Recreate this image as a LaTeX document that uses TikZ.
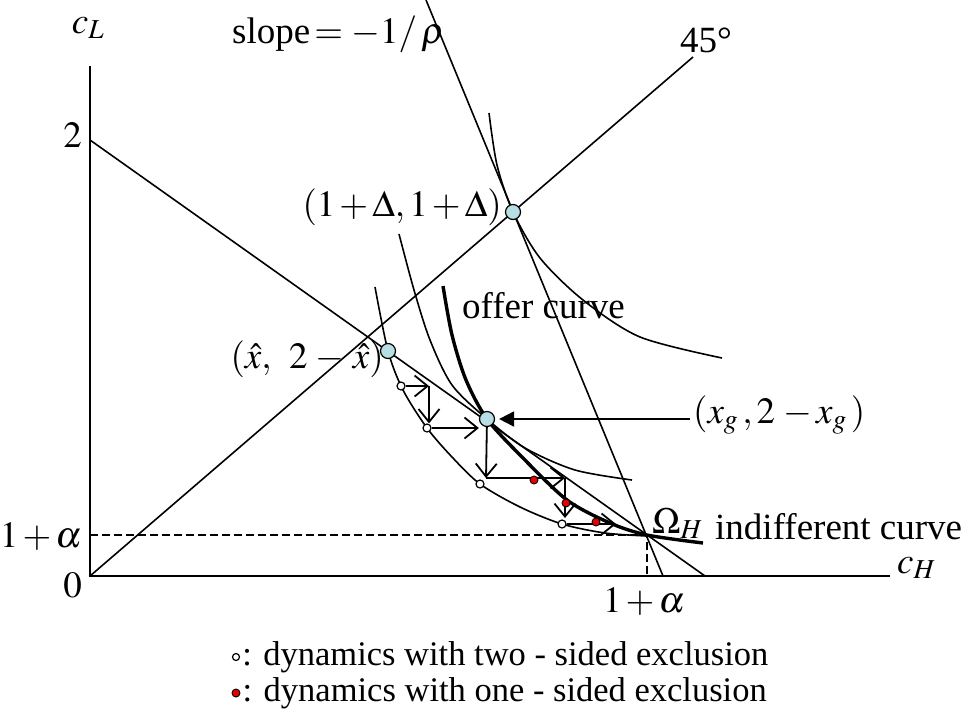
\documentclass[tikz,border=0pt]{standalone}
\usepackage{mathptmx}
\usepackage{fontspec}
\setmainfont{Liberation Serif}
\usetikzlibrary{arrows.meta,positioning}
\definecolor{ptfill}{RGB}{183,222,228}
\definecolor{dynred}{RGB}{232,0,0}
\medmuskip=2mu

\begin{document}
\begin{tikzpicture}[
  x=1pt,y=-1pt,
  every node/.style={font=\fontsize{37}{44}\selectfont,inner sep=0pt},
  thin line/.style={line width=1.6pt},
  offer/.style={line width=3.4pt},
  guide/.style={line width=1.2pt,dash pattern=on 8pt off 4pt},
  pt/.style={circle,draw,fill=ptfill,minimum size=15pt,line width=1.2pt},
  twodot/.style={circle,draw,fill=white,minimum size=8pt,line width=1.2pt},
  onedot/.style={circle,draw,fill=dynred,minimum size=8pt,line width=0.9pt},
  dynarr/.style={-{Straight Barb[length=13pt,width=21pt,line width=1.8pt]},line width=1.8pt},
  bigarr/.style={-{Triangle[length=15pt,width=15pt]},line width=1.9pt},
  legtxt/.style={font=\fontsize{34.5}{40}\selectfont}
]
\useasboundingbox (0,0) rectangle (968,713);

% axes and guides
\coordinate (o) at (90,576);
\coordinate (omega) at (647,535);
\coordinate (yal) at (90,535);
\coordinate (xal) at (647,576);
\draw[thin line] (90,66) -- (o) -- (890,576);
\draw[guide] (yal) -- (omega) -- (xal);
\draw[thin line] (90,140) -- (705,576);
\draw[thin line] (o) -- (693,57);
\draw[thin line] (426,0) -- (663,576);

% curves
\draw[thin line] plot[smooth] coordinates {(489,113) (497,165) (513,212) (540,258) (583,300) (640,337) (722,358)};
\draw[thin line] plot[smooth] coordinates {(399,234) (414,290) (430,340) (452,385) (487,419) (525,448) (575,470) (632,480)};
\draw[thin line] plot[smooth] coordinates {(375,287) (388,351) (403,390) (427,428) (452,457) (480,484) (520,507) (562,524) (605,533) (647,536)};
\draw[offer] plot[smooth] coordinates {(443,286) (452,335) (466,380) (487,419) (522,457) (567,500) (610,523) (647,535) (703,543)};

% points
\node[pt] (pD) at (513,212) {};
\node[pt] (pxhat) at (388,351) {};
\node[pt] (pxg) at (487,419) {};

% dynamics
\node[twodot] (a1) at (401,386) {};
\node[twodot] (a2) at (427,428) {};
\node[twodot] (a3) at (480,484) {};
\node[twodot] (a4) at (562,524) {};
\coordinate (k1) at (429,386);
\coordinate (k2) at (486,478);
\coordinate (k3) at (565,478);
\coordinate (k4) at (565,518);
\coordinate (k5) at (616,524);
\draw[dynarr] (a1) -- (k1);
\draw[dynarr] (k1) -- (k1 |- a2.north);
\draw[dynarr] (a2) -- (a2 -| pxg.west);
\draw[dynarr] (pxg) -- (k2);
\draw[dynarr] (k2) -- (k3);
\draw[dynarr] (k3) -- (k4);
\draw[dynarr] (a4) -- (k5);
\node[onedot] (b1) at (534,480) {};
\node[onedot] (b2) at (566,503) {};
\node[onedot] (b3) at (596,522) {};

% labels
\node[anchor=base] (cl) at (88,33) {$c_L$};
\node[anchor=base west] (cH) at (897,573) {$c_H$};
\node[anchor=base east] (two) at (82,147) {$2$};
\node[anchor=base east] (ya) at (82,547) {$1+\alpha$};
\node[anchor=base east] (zero) at (82,597) {$0$};
\node[anchor=base] (xa) at (644,612) {$1+\alpha$};
\node[anchor=base west] (slope) at (232,43) {slope$\,=-1/\,\rho$};
\node[anchor=base] (deg) at (706,52) {45°};
\node[anchor=base east] (lD) at (502,216) {$(1+\Delta,1+\Delta)$};
\node[anchor=base west] (loffer) at (462,318) {offer curve};
\node[anchor=base east] (lxhat) at (384,368) {$(\hat{x},\ \,2\,-\,\hat{x})$};
\node[anchor=base west,inner sep=3pt] (lxg) at (690,423) {$(x_{g}\,,2\,-x_{g}\,)$};
\node[anchor=base west] (lomega) at (652,533) {$\Omega_H$};
\node[anchor=base west] (lind) at (715,539) {indifferent curve};
\draw[bigarr,shorten >=4pt] (pxg -| lxg.west) -- (pxg);

% legend
\node[twodot,minimum size=7pt] (d1) at (236,657) {};
\node[legtxt,right=2pt of d1] (leg1) {: dynamics with two - sided exclusion};
\node[onedot,minimum size=8pt] (d2) at (236,693) {};
\node[legtxt,right=2pt of d2] (leg2) {: dynamics with one - sided exclusion};
\end{tikzpicture}
\end{document}
